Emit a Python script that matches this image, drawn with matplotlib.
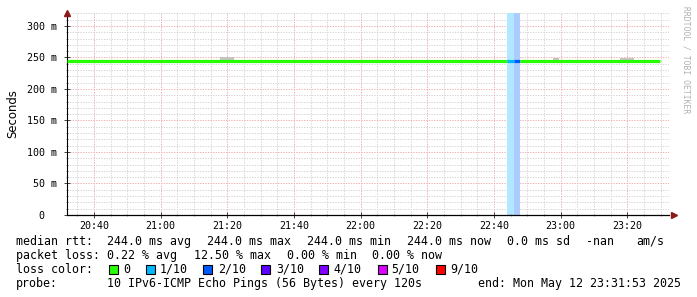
import matplotlib
matplotlib.use("Agg")
import matplotlib.pyplot as plt
from matplotlib.ticker import MultipleLocator

# ---------------- data ----------------
view_start = "20:31:53"
view_end = "23:31:53"

seg_start = ["20:31:53", "22:43:53", "22:46:00", "22:47:47"]
seg_end = ["22:43:53", "22:46:00", "22:47:47", "23:29:47"]
seg_rtt_ms = [244.0, 244.0, 244.0, 244.0]
seg_loss = ["0", "1/10", "2/10", "0"]

smoke_start = ["21:17:47", "22:57:41", "23:17:47"]
smoke_end = ["21:21:59", "22:59:29", "23:21:59"]
smoke_lo_ms = [244.0, 244.0, 244.0]
smoke_hi_ms = [250.0, 249.0, 249.0]

xtick_labels = ["20:40", "21:00", "21:20", "21:40", "22:00", "22:20", "22:40", "23:00", "23:20"]
ytick_values = [0, 50, 100, 150, 200, 250, 300]
ytick_labels = ["0  ", "50 m", "100 m", "150 m", "200 m", "250 m", "300 m"]

loss_names = ["0", "1/10", "2/10", "3/10", "4/10", "5/10", "9/10"]
loss_colors = ["#26ff00", "#00b8ff", "#0059ff", "#5e00ff", "#7e00ff", "#dd00ff", "#ff0000"]
loss_band = {"1/10": "#b0e8ff", "2/10": "#aecbff"}

legend_rows = [
    [(16, "median rtt:"), (107, "244.0 ms avg"), (207, "244.0 ms max"), (307, "244.0 ms min"),
     (407, "244.0 ms now"), (507, "0.0 ms sd"), (586, "-nan"), (636, "am/s")],
    [(16, "packet loss:"), (107, "0.22 % avg"), (194, "12.50 % max"), (287, "0.00 % min"),
     (372, "0.00 % now")],
    [(16, "loss color:")],
    [(16, "probe:"), (107, "10 IPv6-ICMP Echo Pings (56 Bytes) every 120s"),
     (478, "end: Mon May 12 23:31:53 2025")],
]
loss_box_x = [109, 146, 203, 261, 319, 378, 436]
loss_text_x = [123, 160, 218, 276, 333, 391, 450]
row_y = [241.5, 255.5, 269.5, 283.5]


def tmin(s):
    h, m, sec = (s.split(":") + ["0"])[:3]
    return int(h) * 60 + int(m) + int(sec) / 60.0


W, H = 697, 297
fig = plt.figure(figsize=(W / 100, H / 100), dpi=100)
fig.patch.set_facecolor("white")
ax = fig.add_axes([67 / W, (H - 215) / H, 602 / W, 202 / H])
ax.set_facecolor("white")

x0 = tmin(view_start)
x1 = x0 + 602 * 18 / 60.0
ax.set_xlim(x0, x1)
ax.set_ylim(0, 320.6)

# grid
minor_c = "#d6d6d6"
major_c = "#eeb0b0"
ls_dot = (0, (1.3, 1.3))
for v in range(0, 330, 10):
    if v % 50:
        ax.axhline(v, color=minor_c, lw=0.72, ls=ls_dot, zorder=0.5)
t = 20 * 60 + 35
while t < x1:
    if t > x0 and (t % 20):
        ax.axvline(t, color=minor_c, lw=0.72, ls=ls_dot, zorder=0.5)
    t += 5
for v in ytick_values[1:]:
    ax.axhline(v, color=major_c, lw=0.72, ls=ls_dot, zorder=0.6)
xt = [tmin(s) for s in xtick_labels]
for v in xt:
    ax.axvline(v, color=major_c, lw=0.72, ls=ls_dot, zorder=0.6)

# loss bands
for s, e, l in zip(seg_start, seg_end, seg_loss):
    if l in loss_band:
        ax.axvspan(tmin(s), tmin(e), color=loss_band[l], lw=0, zorder=1)

# smoke
for s, e, lo, hi in zip(smoke_start, smoke_end, smoke_lo_ms, smoke_hi_ms):
    ax.fill_between([tmin(s), tmin(e)], [lo, lo], [hi, hi], color="#c4c4c4", lw=0, zorder=2)

# median line
cmap = dict(zip(loss_names, loss_colors))
for s, e, r, l in zip(seg_start, seg_end, seg_rtt_ms, seg_loss):
    ax.plot([tmin(s), tmin(e)], [r, r], color=cmap[l], lw=2.3, solid_capstyle="butt", zorder=3)

# axes
for sp in ["top", "right"]:
    ax.spines[sp].set_visible(False)
ax.spines["left"].set_linewidth(0.8)
ax.spines["bottom"].set_linewidth(0.9)
ax.set_xticks(xt)
ax.set_xticklabels(xtick_labels, family="DejaVu Sans Mono", fontsize=7.2)
ax.set_yticks(ytick_values)
ax.set_yticklabels(ytick_labels, family="DejaVu Sans Mono", fontsize=7.2)
ax.xaxis.set_minor_locator(MultipleLocator(5))
ax.yaxis.set_minor_locator(MultipleLocator(10))
ax.tick_params(which="major", direction="inout", length=4, width=0.7, pad=2, color="#444444")
ax.tick_params(which="minor", direction="inout", length=2, width=0.5, color="#777777")
ax.tick_params(axis="y", which="major", pad=5)

# arrows
ax.plot([0], [1.0], marker="^", color="#8b1a1a", ms=4.5, transform=ax.transAxes, clip_on=False, zorder=5)
ax.plot([1.008], [0], marker=">", color="#8b1a1a", ms=4.5, transform=ax.transAxes, clip_on=False, zorder=5)

ax.set_ylabel("Seconds", family="DejaVu Sans", fontsize=8.4)
ax.yaxis.set_label_coords(-0.08, 0.5)

fig.text(686 / W, 1 - 60 / H, "RRDTOOL / TOBI OETIKER", rotation=270, ha="center", va="center",
         family="DejaVu Sans Mono", fontsize=5.8, color="#b0b0b0")

# legend text
mono = dict(family="DejaVu Sans Mono", fontsize=8.4, va="center", ha="left", color="black")
for row, y in zip(legend_rows, row_y):
    for x, txt in row:
        fig.text(x / W, 1 - y / H, txt, **mono)
for bx, tx, name, c in zip(loss_box_x, loss_text_x, loss_names, loss_colors):
    fig.patches.append(plt.Rectangle((bx / W, 1 - 274 / H), 9 / W, 9 / H, transform=fig.transFigure,
                                     facecolor=c, edgecolor="black", lw=0.8))
    fig.text(tx / W, 1 - row_y[2] / H, name, **mono)

fig.savefig("out.png", dpi=100)
